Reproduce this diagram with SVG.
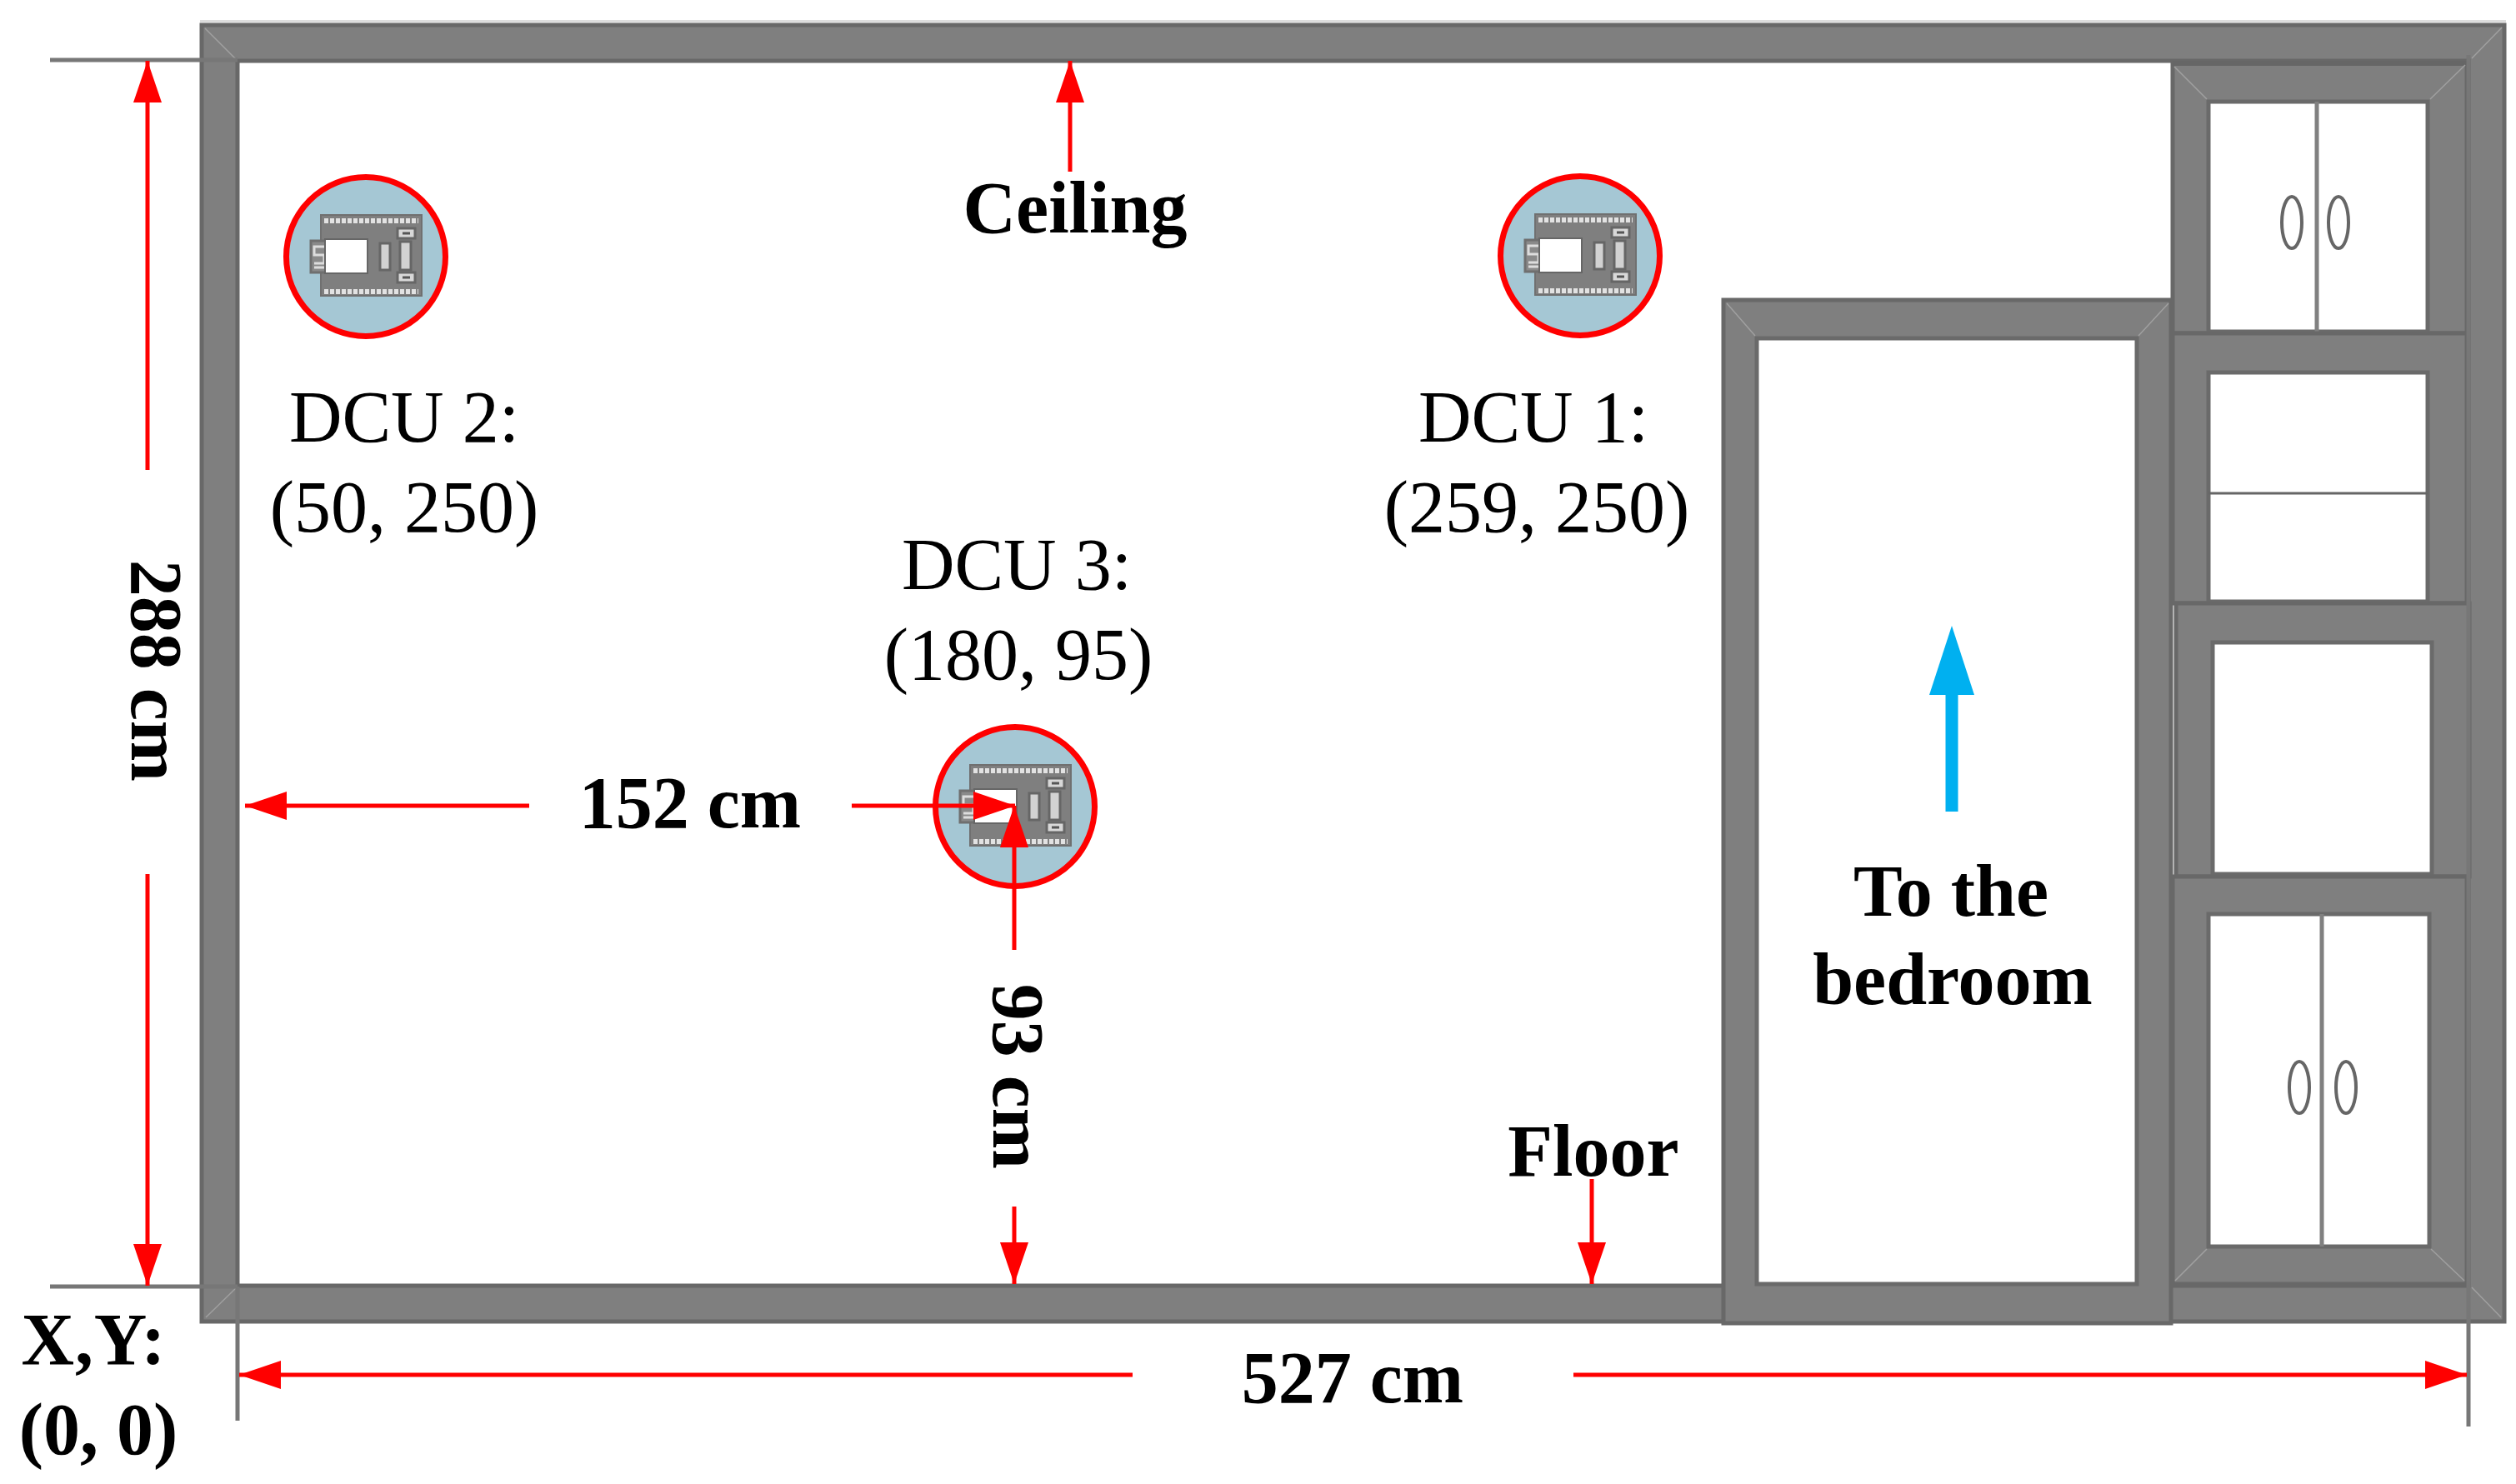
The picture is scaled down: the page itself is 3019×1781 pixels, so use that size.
<svg xmlns="http://www.w3.org/2000/svg" width="3019" height="1781" viewBox="0 0 3019 1781">
<style>
.wall{fill:#7f7f7f;stroke:#686868;stroke-width:5}
.open{fill:#fff;stroke:#6a6a6a;stroke-width:5}
.mit{stroke:#a0a0a0;stroke-width:1.5;fill:none}
.ext{stroke:#777;stroke-width:5;fill:none}
.div{stroke:#808080;stroke-width:5;fill:none}
.handle{fill:none;stroke:#666;stroke-width:4}
.dim{stroke:#f00;stroke-width:5;fill:none;marker-end:url(#red)}
text{font-family:"Liberation Serif","Times New Roman",serif;font-size:88px;fill:#000;text-anchor:middle}
.b{font-weight:bold}
</style>
<defs>
<marker id="red" markerUnits="userSpaceOnUse" viewBox="0 0 50 34" refX="50" refY="17" markerWidth="50" markerHeight="34" orient="auto"><path d="M0 0L50 17L0 34Z" fill="#f00"/></marker>
<g id="dcu">
<circle r="95.500" fill="#a5c7d4" stroke="#f00" stroke-width="7"/>
<rect x="-54" y="-50" width="121" height="97" fill="#7f7f7f" stroke="#707070" stroke-width="2"/>
<path d="M-50 -43H63M-50 42H63" stroke="#e2e2e2" stroke-width="6" stroke-dasharray="5 2"/>
<rect x="-66" y="-19" width="18" height="38" fill="#8a8a8a" stroke="#6f6f6f" stroke-width="3"/>
<path d="M-50 -12H-62V-2H-50V8H-62M-62 13H-50" fill="none" stroke="#ddd" stroke-width="3"/>
<rect x="-49" y="-21" width="51" height="41" fill="#fff" stroke="#666" stroke-width="2"/>
<rect x="17" y="-16" width="12" height="32" fill="#d2d2d2" stroke="#666" stroke-width="3"/>
<rect x="41" y="-18" width="13" height="34" fill="#d2d2d2" stroke="#666" stroke-width="3"/>
<rect x="38" y="-34" width="21" height="12" fill="#d8d8d8" stroke="#666" stroke-width="3"/>
<rect x="38" y="19" width="21" height="12" fill="#d8d8d8" stroke="#666" stroke-width="3"/>
<path d="M44 -28H53M44 25H53" stroke="#555" stroke-width="3"/>
</g>
</defs>
<g id="room">
<rect x="240" y="24" width="2767" height="3" fill="#ddd"/>
<path class="wall" fill-rule="evenodd" d="M242 30H3005V1586H242ZM285 73V1543H2962V73Z"/>
<path class="mit" d="M246 34L283 71M3002 33L2966 70M247 1581L284 1545M3001 1581L2966 1545"/>
</g>
<g id="cabinet-1">
<rect class="wall" x="2607" y="75" width="353" height="325"/>
<path d="M2607 76H2960" stroke="#666" stroke-width="6" fill="none"/>
<rect class="open" x="2650" y="122" width="263" height="276"/>
<path class="div" d="M2780 122V398"/>
<ellipse class="handle" cx="2750" cy="267" rx="12" ry="31"/>
<ellipse class="handle" cx="2806" cy="267" rx="12" ry="31"/>
<path class="mit" d="M2609 80L2648 119M2958 78L2916 119"/>
</g>
<g id="cabinet-2">
<rect class="wall" x="2607" y="400" width="353" height="324"/>
<rect class="open" x="2650" y="447" width="263" height="275"/>
<path d="M2650 592H2913" stroke="#666" stroke-width="3"/>
</g>
<g id="cabinet-3">
<rect class="wall" x="2611" y="724" width="352" height="328"/>
<rect class="open" x="2655" y="771" width="263" height="278"/>
</g>
<g id="cabinet-4">
<rect class="wall" x="2607" y="1052" width="353" height="489"/>
<rect class="open" x="2650" y="1097" width="265" height="399"/>
<path class="div" d="M2786 1097V1496"/>
<ellipse class="handle" cx="2759" cy="1305" rx="12" ry="31"/>
<ellipse class="handle" cx="2815" cy="1305" rx="12" ry="31"/>
<path class="mit" d="M2610 1537L2648 1499M2957 1537L2917 1499"/>
</g>
<g id="door">
<rect class="wall" x="2068" y="360" width="537" height="1228"/>
<rect class="open" x="2108" y="406" width="456" height="1135"/>
<path class="mit" d="M2072 364L2106 403M2602 364L2566 403"/>
</g>
<g id="extension-lines">
<path class="ext" d="M60 72H285M60 1544H285M285 1544V1705M2962 66V1712"/>
</g>
<g id="dcu-1"><use href="#dcu" x="1896" y="307"/></g>
<g id="dcu-2"><use href="#dcu" x="439" y="308"/></g>
<g id="dcu-3"><use href="#dcu" x="1218" y="968"/></g>
<g id="connectors">
<path class="dim" d="M177 564V73"/>
<path class="dim" d="M177 1049V1543"/>
<path class="dim" d="M1284 206V73"/>
<path class="dim" d="M1910 1415V1541"/>
<path class="dim" d="M635 967H294"/>
<path class="dim" d="M1022 967H1218"/>
<path class="dim" d="M1217 1140V967"/>
<path class="dim" d="M1217 1448V1541"/>
<path class="dim" d="M1359 1650H287"/>
<path class="dim" d="M1888 1650H2960"/>
<path d="M2342 974V830" stroke="#00b0f0" stroke-width="15" fill="none"/>
<path d="M2315 834L2342 751L2369 834Z" fill="#00b0f0"/>
</g>
<g id="labels">
<text class="b" x="1290" y="279">Ceiling</text>
<text x="485" y="530">DCU 2:</text>
<text x="485" y="638">(50, 250)</text>
<text x="1840" y="530">DCU 1:</text>
<text x="1844" y="638">(259, 250)</text>
<text x="1220" y="707">DCU 3:</text>
<text x="1222" y="815">(180, 95)</text>
<text class="b" x="828" y="993">152 cm</text>
<text class="b" x="1623" y="1683">527 cm</text>
<text class="b" transform="translate(158 805) rotate(90)">288 cm</text>
<text class="b" transform="translate(1192 1292) rotate(90)">93 cm</text>
<text class="b" x="1912" y="1411">Floor</text>
<text class="b" x="2341" y="1099">To the</text>
<text class="b" x="2343" y="1205">bedroom</text>
<text class="b" x="112" y="1637" textLength="173" lengthAdjust="spacing">X,Y:</text>
<text class="b" x="118" y="1745">(0, 0)</text>
</g>
</svg>
